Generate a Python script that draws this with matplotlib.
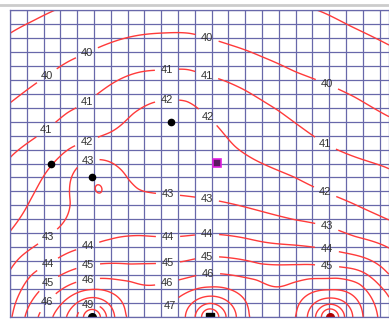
import numpy as np
import matplotlib
matplotlib.use("Agg")
import matplotlib.pyplot as plt
from matplotlib.lines import Line2D

# model extent (grid units, origin at lower-left corner)
x_max, y_max = 379.0, 307.0
col_w, row_h = 16.8, 307.0 / 22

# heads picked along the mapped equipotentials: (x, y) per level
pts = {
    39: [(0, 284), (23, 296), (45, 307), (308, 307), (340, 291), (379, 272)],
    40: [(0, 214), (37, 241), (57, 255), (77, 264), (100, 274), (130, 282),
         (157, 284), (180, 284), (197, 279), (220, 272), (252, 260),
         (285, 245), (317, 233), (345, 220), (379, 200)],
    41: [(0, 160), (37, 187), (57, 205), (77, 215), (103, 234), (130, 245),
         (157, 246), (177, 248), (197, 240), (208, 239), (235, 227),
         (268, 207), (295, 187), (315, 173), (345, 160), (379, 149)],
    42: [(0, 85), (20, 117), (33, 140), (42, 152), (50, 160), (77, 174),
         (100, 184), (123, 204), (143, 215), (157, 217), (177, 217),
         (197, 200), (205, 194), (225, 170), (245, 157), (285, 140),
         (315, 125), (342, 114), (378, 97)],
    43: [(0, 47), (10, 60), (38, 80), (53, 94), (62, 114), (60, 130),
         (67, 150), (78, 157), (93, 157), (107, 150), (117, 137), (127, 127),
         (140, 125), (158, 123), (197, 118), (235, 110), (285, 97), (317, 91),
         (345, 80), (378, 70)],
    44: [(3, 0), (10, 24), (23, 44), (38, 52), (57, 64), (78, 70), (100, 77),
         (130, 82), (158, 80), (197, 83), (235, 79), (285, 72), (317, 68),
         (345, 62), (360, 57), (372, 50), (378, 42)],
    44.2: [(88, 131)],
    45: [(15, 2), (38, 34), (78, 52), (120, 52), (158, 54), (173, 55),
         (197, 60), (220, 59), (250, 52), (290, 52), (317, 50), (333, 49),
         (360, 40), (377, 24)],
    46: [(28, 2), (38, 14), (78, 37), (120, 37), (157, 34), (177, 39),
         (198, 44), (220, 42), (247, 39), (270, 30), (283, 35), (300, 39),
         (327, 40), (350, 34), (362, 18)],
    47: [(43, 2), (82, 27), (113, 2), (157, 12), (163, 2), (200, 29),
         (237, 2), (288, 2), (320, 26), (352, 2)],
    48: [(57, 2), (82, 20), (105, 2), (175, 2), (200, 21), (227, 2),
         (297, 2), (320, 19), (343, 2)],
    49: [(67, 2), (82, 13), (97, 2), (185, 2), (200, 14), (217, 2),
         (305, 2), (320, 13), (335, 2)],
    50: [(74, 2), (82, 7), (90, 2), (192, 2), (200, 8), (208, 2),
         (312, 2), (320, 8), (328, 2)],
}
levels = list(range(39, 51))

# recharge wells on the southern boundary
well_x = [82, 200, 320]
well_y = [0, 0, 0]
well_marker = ["o", "s", "o"]
well_color = ["black", "black", "#b00000"]

# observation wells
obs_x = [161, 41, 82]
obs_y = [195, 153, 140]
probe_x, probe_y = [207], [154]


def drift(x, y):
    cols = [np.ones_like(x), x / 100.0, y / 100.0]
    for wx, wy in zip(well_x, well_y):
        cols.append(np.log(np.hypot(x - wx, y - wy) + 1.5))
    return np.stack(cols, axis=-1)


def tps(r):
    r = np.maximum(r, 1e-9)
    return r ** 2 * np.log(r)


px, py, ph = [], [], []
for lev, p in pts.items():
    for a, b in p:
        px.append(a)
        py.append(b)
        ph.append(lev)
px, py, ph = np.array(px, float), np.array(py, float), np.array(ph, float)

# thin-plate spline with well drift terms
n = len(px)
K = tps(np.hypot(px[:, None] - px[None, :], py[:, None] - py[None, :]) / 100.0)
P = drift(px, py)
m = P.shape[1]
A = np.zeros((n + m, n + m))
A[:n, :n] = K + 0.02 * np.eye(n)
A[:n, n:] = P
A[n:, :n] = P.T
sol = np.linalg.solve(A, np.concatenate([ph, np.zeros(m)]))
w, c = sol[:n], sol[n:]

gx, gy = np.meshgrid(np.linspace(0, x_max, 380), np.linspace(0, y_max, 308))
head = np.empty_like(gx)
for i in range(gx.shape[0]):
    r = np.hypot(gx[i][:, None] - px[None, :], gy[i][:, None] - py[None, :]) / 100.0
    head[i] = tps(r) @ w + drift(gx[i], gy[i]) @ c

fig = plt.figure(figsize=(3.89, 3.20), dpi=100)
ax = fig.add_axes([10 / 389, 3 / 320, 379 / 389, 307 / 320])
ax.set_xlim(0, x_max)
ax.set_ylim(0, y_max)

ax.set_xticks(np.arange(0, x_max, col_w))
ax.set_yticks(np.arange(0, y_max + 1, row_h))
ax.grid(True, color="#6868aa", lw=0.9)
ax.tick_params(length=0, labelbottom=False, labelleft=False)
for s in ax.spines.values():
    s.set_color("#6868aa")
    s.set_linewidth(0.9)
ax.set_axisbelow(True)

cs = ax.contour(gx, gy, head, levels=levels, colors="#ff3a3a", linewidths=1.0)

label_pos = [
    (37, 241), (77, 264), (197, 279), (317, 233),
    (37, 186), (77, 215), (157, 246), (196, 240), (315, 173),
    (77, 174), (157, 217), (197, 199), (315, 125),
    (78, 155), (38, 80), (158, 123), (197, 118), (317, 91),
    (38, 52), (78, 70), (158, 80), (197, 83), (317, 68),
    (38, 34), (78, 52), (158, 54), (197, 60), (317, 50),
    (38, 14), (78, 37), (157, 34), (198, 44),
    (157, 12), (78, 12),
]
lbls = ax.clabel(cs, manual=label_pos, inline=True, fmt="%d", fontsize=8,
                 colors="#333333")
for t in lbls:
    t.set_fontfamily("Liberation Sans")
    t.set_rotation(0)

ax.plot(obs_x, obs_y, "o", color="black", ms=4.5)
ax.plot(probe_x, probe_y, "s", mfc="#5a1a60", mec="#e020e0", mew=1.2, ms=6)
for x, y, mk, col in zip(well_x, well_y, well_marker, well_color):
    ax.plot(x, y, mk, color=col, ms=5.5, clip_on=True)

fig.add_artist(Line2D([0, 1], [1 - 5 / 320] * 2, color="#cccccc", lw=2))

fig.savefig("out.png", dpi=100)
